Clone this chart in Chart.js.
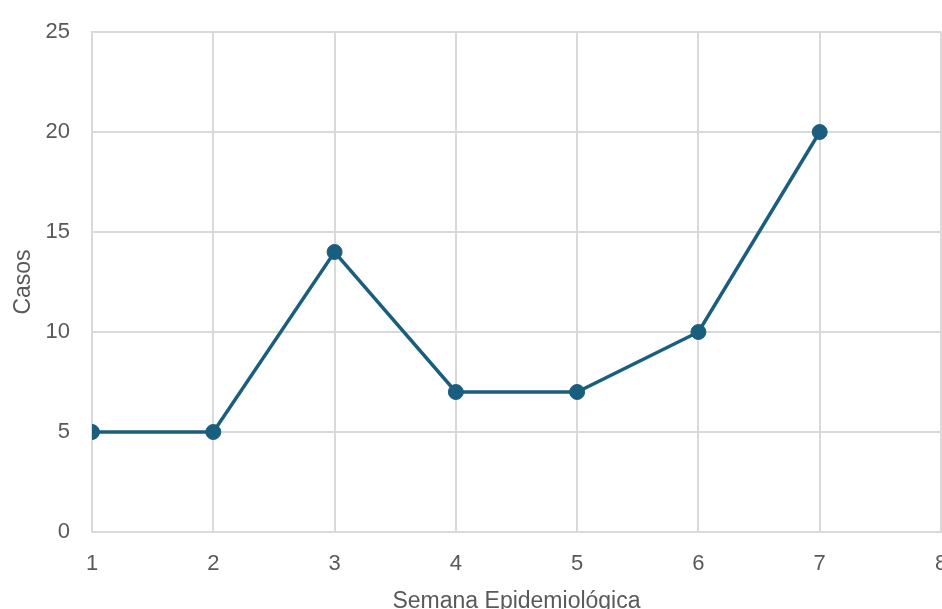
<!DOCTYPE html>
<html>
<head>
<meta charset="utf-8">
<script src="https://cdn.jsdelivr.net/npm/chart.js@4/dist/chart.umd.min.js"></script>
<style>
  html, body { margin: 0; padding: 0; background: #ffffff; overflow: hidden; width: 942px; height: 609px; }
  #wrap { position: absolute; left: 0; top: 0; width: 980px; height: 640px; }
</style>
</head>
<body>
<div id="wrap"><canvas id="c" width="980" height="640"></canvas></div>
<script>
// Weekly case counts by epidemiological week
const semanas = [1, 2, 3, 4, 5, 6, 7];
const casos = [5, 5, 14, 7, 7, 10, 20];
const xTitulo = 'Semana Epidemiológica';
const yTitulo = 'Casos';

const puntos = semanas.map((s, i) => ({ x: s, y: casos[i] }));

const textColor = '#595959';
const gridColor = '#d9d9d9';
const lineColor = '#1a5e7f';
const fontFamily = "'Liberation Sans', Arial, sans-serif";

new Chart(document.getElementById('c'), {
  type: 'line',
  data: {
    datasets: [{
      data: puntos,
      borderColor: lineColor,
      backgroundColor: lineColor,
      borderWidth: 3.5,
      pointRadius: 7.5,
      pointHoverRadius: 7.5,
      pointBackgroundColor: lineColor,
      pointBorderColor: lineColor,
      pointBorderWidth: 1,
      tension: 0,
      fill: false
    }]
  },
  options: {
    responsive: false,
    animation: false,
    devicePixelRatio: 1,
    layout: { padding: { left: 0, right: 39, top: 32, bottom: 0 } },
    plugins: { legend: { display: false }, tooltip: { enabled: false } },
    scales: {
      x: {
        type: 'linear',
        min: 1,
        max: 8,
        afterFit: (s) => { s.height = 108; },
        ticks: {
          stepSize: 1,
          color: textColor,
          padding: 19,
          font: { family: fontFamily, size: 22 }
        },
        grid: { color: gridColor, lineWidth: 2, drawTicks: false },
        border: { color: gridColor, width: 2 },
        title: {
          display: true,
          text: xTitulo,
          color: textColor,
          font: { family: fontFamily, size: 23 },
          padding: { top: 0, bottom: 25 }
        }
      },
      y: {
        min: 0,
        max: 25,
        afterFit: (s) => { s.width = 92; s.paddingTop = 0; s.paddingBottom = 0; },
        ticks: {
          stepSize: 5,
          color: textColor,
          padding: 22,
          font: { family: fontFamily, size: 22 }
        },
        grid: { color: gridColor, lineWidth: 2, drawTicks: false },
        border: { color: gridColor, width: 2 },
        title: {
          display: true,
          text: yTitulo,
          color: textColor,
          font: { family: fontFamily, size: 23 },
          padding: { top: 10, bottom: 0 }
        }
      }
    }
  }
});
</script>
</body>
</html>
